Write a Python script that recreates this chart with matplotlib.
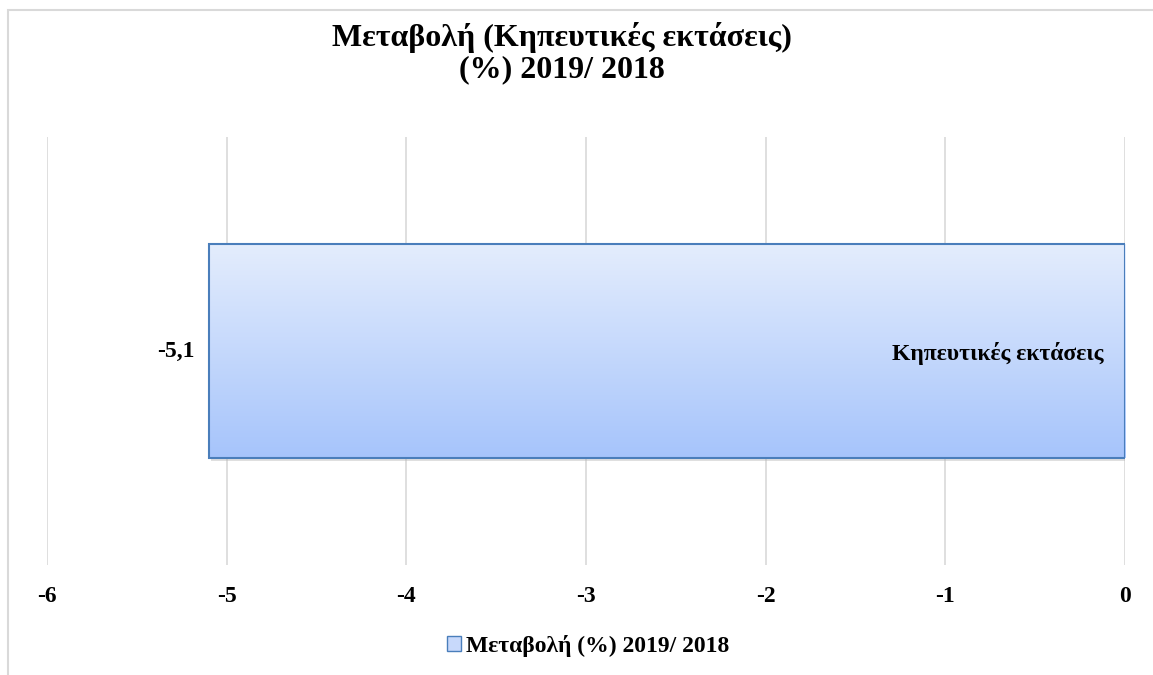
import matplotlib
matplotlib.use("Agg")
import matplotlib.pyplot as plt
import numpy as np
from matplotlib.colors import LinearSegmentedColormap
from matplotlib.patches import Rectangle
import matplotlib.patches as mpatches

categories = ["Κηπευτικές εκτάσεις"]
values = [-5.1]
value_labels = ["-5,1"]
xticks = [-6, -5, -4, -3, -2, -1, 0]
title = "Μεταβολή (Κηπευτικές εκτάσεις)\n(%) 2019/ 2018"
series_name = "Μεταβολή (%) 2019/ 2018"

plt.rcParams['font.family'] = ['Liberation Serif', 'DejaVu Serif']

W, H = 1153, 675
fig = plt.figure(figsize=(W / 100, H / 100), dpi=100)

# outer chart border (partly off-canvas)
fig.patches.append(Rectangle((7.5 / W, -0.1), 1.2, (H - 9.5) / H + 0.1, transform=fig.transFigure,
                             fill=False, edgecolor='#d9d9d9', linewidth=1.5))

ax = fig.add_axes([47 / W, (H - 565) / H, (1125 - 47) / W, (565 - 137) / H])
for s in ax.spines.values():
    s.set_visible(False)
ax.set_xticks(xticks)
ax.set_xticklabels([str(t) for t in xticks], fontsize=17, fontweight='bold')
ax.tick_params(axis='x', length=0, pad=15)
ax.set_yticks([])
ax.grid(axis='x', color='#d9d9d9', linewidth=1.2)
ax.set_axisbelow(True)

cmap = LinearSegmentedColormap.from_list('g', ['#e4edfd', '#a6c4fb'])
ypos = np.arange(len(categories))[::-1]
for y, v, lab, cat in zip(ypos, values, value_labels, categories):
    sh = Rectangle((v + 0.012, y - 0.5 - 0.015), -v, 1, facecolor='#b8b8b8', edgecolor='none',
                   alpha=0.45, zorder=2)
    ax.add_patch(sh)
    bar = ax.barh(y, v, height=1, color='none', edgecolor='#4a7ebb', linewidth=1.5, zorder=4)[0]
    grad = np.linspace(0, 1, 256).reshape(-1, 1)
    im = ax.imshow(grad, cmap=cmap, aspect='auto', extent=(v, 0, y - 0.5, y + 0.5),
                   origin='upper', zorder=3)
    im.set_clip_path(bar)
    ax.text(v - 0.08, y, lab, ha='right', va='center', fontsize=17, fontweight='bold')
    ax.text(-0.12, y - 0.01, cat, ha='right', va='center', fontsize=17, fontweight='bold', zorder=5)

ax.set_xlim(-6, 0)
ax.set_ylim(-0.998, 0.998)

fig.text(562 / W, 1 - 53 / H, title, ha='center', va='center', fontsize=23, fontweight='bold',
         linespacing=1.1)

handle = mpatches.Patch(facecolor='#c8d9fb', edgecolor='#4a7ebb', linewidth=1)
fig.legend([handle], [series_name], loc='center', bbox_to_anchor=(588 / W, 1 - 646 / H),
           frameon=False, prop={'weight': 'bold', 'size': 17}, handlelength=0.6, handleheight=0.6,
           handletextpad=0.2)

fig.savefig('out.png', dpi=100)
